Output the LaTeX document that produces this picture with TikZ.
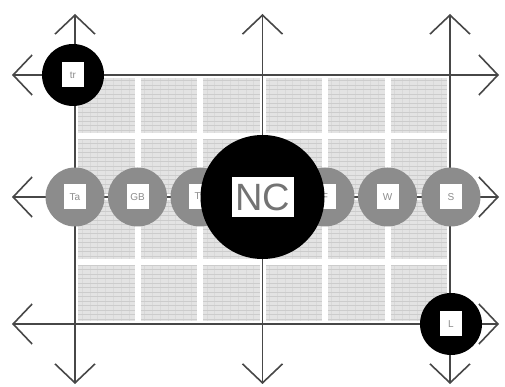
\documentclass[tikz,border=0pt]{standalone}
\usepackage{fontspec}
\setmainfont{Liberation Sans}
\usetikzlibrary{arrows.meta}
\tikzset{
  axisarr/.style  = {{Straight Barb[length=19pt,width=40pt]}-{Straight Barb[length=19pt,width=40pt]},line width=1.6pt,black!72},
  cellfill/.style = {fill=gray!22},
  finegrid/.style = {gray!40,line width=0.45pt},
  faintgrid/.style = {gray!30,line width=0.35pt},
  gapline/.style  = {white,line width=6pt},
  bighub/.style   = {circle,fill=black,minimum size=124pt,inner sep=0pt},
  blackhub/.style = {circle,fill=black,minimum size=62pt,inner sep=0pt},
  grayhub/.style  = {circle,fill=black!45,minimum size=59pt,inner sep=0pt},
  tag/.style      = {fill=white,minimum width=22pt,minimum height=25pt,inner sep=0pt,
                     font=\fontsize{10}{12}\selectfont,text=black!45},
  bigtag/.style   = {fill=white,minimum width=62pt,minimum height=40pt,inner sep=0pt,
                     font=\fontsize{38}{40}\selectfont,text=black!55}
}
\newcommand{\hub}[5]{%
  \node[#1] (#2) at (#3) {};
  \node[#4] (#2-t) at (#2) {#5};
}

\begin{document}
\begin{tikzpicture}[x=1pt,y=1pt]
  \useasboundingbox (0,0) rectangle (505,387);
  % shaded blocks
  \fill[cellfill] (78,66) rectangle (447,309);
  \foreach \x in {82,89.8,...,446}
    \draw[faintgrid] (\x,66) -- (\x,309);
  \foreach \y in {68,72.5,...,308}
    \draw[finegrid] (78,\y) -- (447,\y);
  \foreach \x in {137.5,200,262.5,325,387.5}
    \draw[gapline] (\x,63) -- (\x,312);
  \foreach \y in {125,190,251}
    \draw[gapline] (75,\y) -- (450,\y);
  % axes
  \foreach \n/\x in {1/75,2/262.5,3/450} {
    \coordinate (top\n) at (\x,373);
    \coordinate (bot\n) at (\x,3);
    \draw[axisarr] (top\n) -- (bot\n);
  }
  \foreach \n/\y in {1/312,2/190,3/63} {
    \coordinate (lft\n) at (12,\y);
    \coordinate (rgt\n) at (499,\y);
    \draw[axisarr] (lft\n) -- (rgt\n);
  }
  % hubs
  \hub{grayhub}{ta}{75,190}{tag}{Ta}
  \hub{grayhub}{gb}{137.5,190}{tag}{GB}
  \hub{grayhub}{ty}{200,190}{tag}{Ty}
  \hub{grayhub}{fr}{325,190}{tag}{F}
  \hub{grayhub}{wi}{387.5,190}{tag}{W}
  \hub{grayhub}{sx}{451,190}{tag}{S}
  \hub{bighub}{nc}{262.5,190}{bigtag}{NC}
  \hub{blackhub}{tr}{73,312}{tag}{tr}
  \hub{blackhub}{lc}{451,63}{tag}{L}
\end{tikzpicture}
\end{document}
